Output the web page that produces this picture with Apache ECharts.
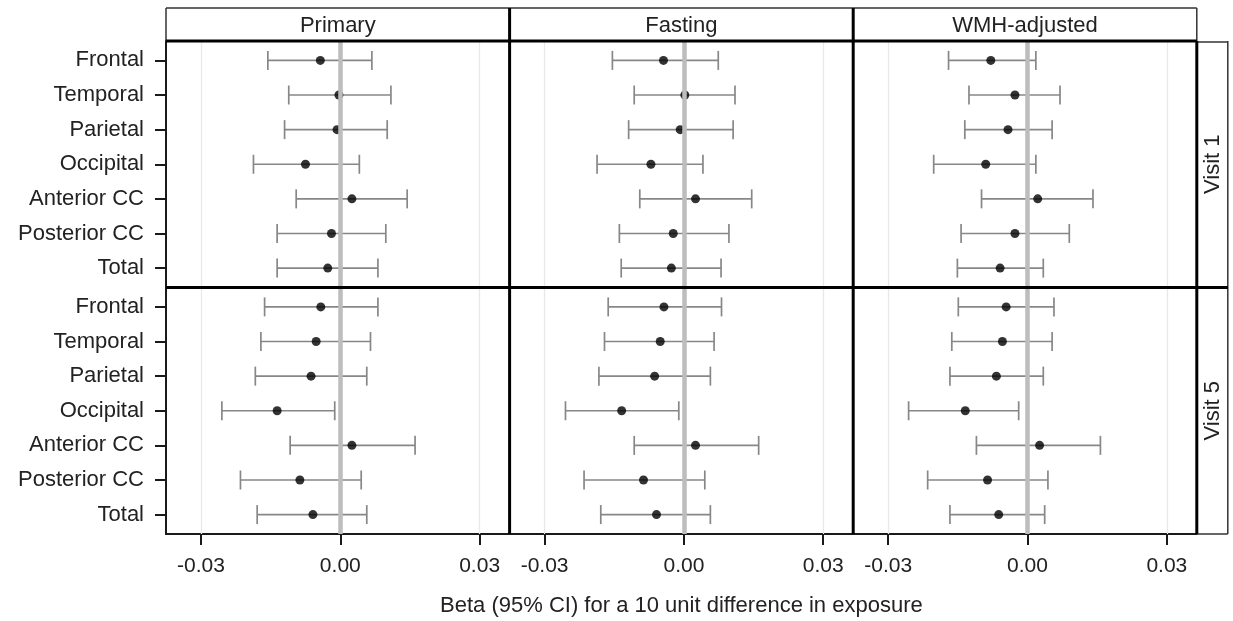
<!DOCTYPE html>
<html><head><meta charset="utf-8">
<script src="https://cdn.jsdelivr.net/npm/echarts@6/dist/echarts.min.js"></script>
<style>html,body{margin:0;padding:0;background:#fff}#c{width:1233px;height:621px}</style>
</head><body><div id="c"></div><script>
// ---- data ----
const categories = ['Frontal','Temporal','Parietal','Occipital','Anterior CC','Posterior CC','Total'];
const models = ['Primary','Fasting','WMH-adjusted'];
const visits = ['Visit 1','Visit 5'];
const xTickValues = [-0.03, 0, 0.03];
const xTickLabels = ['-0.03','0.00','0.03'];
const xAxisTitle = 'Beta (95% CI) for a 10 unit difference in exposure';

const primaryV1Est = [-0.0043, -0.0003, -0.0007, -0.0075, 0.0025, -0.0019, -0.0027];
const primaryV1Lo  = [-0.0156, -0.0111, -0.0120, -0.0187, -0.0095, -0.0136, -0.0136];
const primaryV1Hi  = [0.0068, 0.0109, 0.0101, 0.0041, 0.0144, 0.0098, 0.0081];

const primaryV5Est = [-0.0042, -0.0052, -0.0063, -0.0136, 0.0025, -0.0087, -0.0059];
const primaryV5Lo  = [-0.0163, -0.0171, -0.0183, -0.0255, -0.0108, -0.0215, -0.0179];
const primaryV5Hi  = [0.0081, 0.0065, 0.0057, -0.0012, 0.0161, 0.0045, 0.0057];

const fastingV1Est = [-0.0044, 0.0002, -0.0008, -0.0071, 0.0025, -0.0023, -0.0027];
const fastingV1Lo  = [-0.0154, -0.0107, -0.0119, -0.0187, -0.0095, -0.0139, -0.0135];
const fastingV1Hi  = [0.0074, 0.0110, 0.0106, 0.0041, 0.0146, 0.0097, 0.0080];

const fastingV5Est = [-0.0043, -0.0051, -0.0063, -0.0134, 0.0025, -0.0087, -0.0059];
const fastingV5Lo  = [-0.0163, -0.0171, -0.0183, -0.0255, -0.0107, -0.0215, -0.0179];
const fastingV5Hi  = [0.0081, 0.0065, 0.0057, -0.0011, 0.0161, 0.0045, 0.0057];

const wmhV1Est = [-0.0079, -0.0027, -0.0042, -0.0090, 0.0022, -0.0027, -0.0059];
const wmhV1Lo  = [-0.0170, -0.0126, -0.0135, -0.0202, -0.0099, -0.0143, -0.0151];
const wmhV1Hi  = [0.0018, 0.0070, 0.0053, 0.0018, 0.0141, 0.0090, 0.0034];

const wmhV5Est = [-0.0046, -0.0054, -0.0067, -0.0134, 0.0026, -0.0086, -0.0062];
const wmhV5Lo  = [-0.0149, -0.0163, -0.0167, -0.0256, -0.0110, -0.0215, -0.0167];
const wmhV5Hi  = [0.0057, 0.0053, 0.0034, -0.0019, 0.0157, 0.0044, 0.0037];

const panelData = [
  [[primaryV1Est, primaryV1Lo, primaryV1Hi], [fastingV1Est, fastingV1Lo, fastingV1Hi], [wmhV1Est, wmhV1Lo, wmhV1Hi]],
  [[primaryV5Est, primaryV5Lo, primaryV5Hi], [fastingV5Est, fastingV5Lo, fastingV5Hi], [wmhV5Est, wmhV5Lo, wmhV5Hi]]
];

// ---- layout / style ----
const FONT = '"Liberation Sans", Arial, sans-serif';
const TXT = '#222';
const L0 = 166, W = 343.6, T0 = 41, H = 246.5, HEAD_TOP = 8, STRIP_W = 31;
const PX_PER_UNIT = 4644;
const xMin = -174.3 / PX_PER_UNIT;
const xMax = xMin + W / PX_PER_UNIT;
const yMin = -0.56, yMax = 6.56;

const grids = [], xAxes = [], yAxes = [], series = [];
let gi = 0;
for (let r = 0; r < 2; r++) {
  for (let c = 0; c < 3; c++) {
    grids.push({left: L0 + c * W, top: T0 + r * H, width: W, height: H, containLabel: false});
    const bottom = r === 1;
    xAxes.push({
      type: 'value', gridIndex: gi, min: xMin, max: xMax,
      splitLine: {show: false},
      axisLine: {show: bottom, onZero: false, lineStyle: {color: '#1a1a1a', width: 2}},
      axisTick: {show: bottom, length: 11, customValues: xTickValues, lineStyle: {color: '#1a1a1a', width: 2}},
      axisLabel: {show: bottom, customValues: xTickValues, margin: 22, fontSize: 21, color: TXT, fontFamily: FONT,
        formatter: v => xTickLabels[xTickValues.findIndex(t => Math.abs(t - v) < 1e-9)] ?? ''}
    });
    const left = c === 0;
    yAxes.push({
      type: 'value', gridIndex: gi, min: yMin, max: yMax, inverse: true,
      splitLine: {show: false},
      axisLine: {show: left, onZero: false, lineStyle: {color: '#1a1a1a', width: 2}},
      axisTick: {show: left, length: 11, customValues: [0,1,2,3,4,5,6], lineStyle: {color: '#1a1a1a', width: 2}},
      axisLabel: {show: left, customValues: [0,1,2,3,4,5,6], margin: 22, fontSize: 22, color: TXT, fontFamily: FONT,
        formatter: v => categories[Math.round(v)]}
    });
    const [est, lo, hi] = panelData[r][c];
    // reference lines
    series.push({
      type: 'line', xAxisIndex: gi, yAxisIndex: gi, data: [], z: 1, silent: true,
      markLine: {
        silent: true, symbol: 'none', label: {show: false}, animation: false,
        data: [
          {xAxis: -0.03, lineStyle: {color: '#e8e8e8', width: 1.3, type: 'solid'}},
          {xAxis: 0.03, lineStyle: {color: '#e8e8e8', width: 1.3, type: 'solid'}},
          {xAxis: 0, lineStyle: {color: '#bdbdbd', width: 4.5, type: 'solid'}}
        ]
      }
    });
    // error bars
    series.push({
      type: 'custom', xAxisIndex: gi, yAxisIndex: gi, z: 2, silent: true,
      data: categories.map((_, i) => [lo[i], hi[i], i]),
      encode: {x: [0, 1], y: 2},
      renderItem: (params, api) => {
        const y = api.value(2);
        const p1 = api.coord([api.value(0), y]);
        const p2 = api.coord([api.value(1), y]);
        const h = 9.5;
        const st = {stroke: '#878787', lineWidth: 1.7};
        return {type: 'group', children: [
          {type: 'line', shape: {x1: p1[0], y1: p1[1], x2: p2[0], y2: p2[1]}, style: st},
          {type: 'line', shape: {x1: p1[0], y1: p1[1] - h, x2: p1[0], y2: p1[1] + h}, style: st},
          {type: 'line', shape: {x1: p2[0], y1: p2[1] - h, x2: p2[0], y2: p2[1] + h}, style: st}
        ]};
      }
    });
    // point estimates
    series.push({
      type: 'scatter', xAxisIndex: gi, yAxisIndex: gi, z: 3, silent: true,
      symbol: 'circle', symbolSize: 9, itemStyle: {color: '#000'},
      data: categories.map((_, i) => [est[i], i])
    });
    gi++;
  }
}

// ---- frames, headers, strips ----
const graphic = [];
const line = (x1, y1, x2, y2, w, col) => graphic.push({type: 'line', z: 50, silent: true,
  shape: {x1, y1, x2, y2}, style: {stroke: col, lineWidth: w}});
const RIGHT = L0 + 3 * W;
const BOTTOM = T0 + 2 * H;
// header boxes (thin)
line(L0, HEAD_TOP, RIGHT, HEAD_TOP, 1.5, '#333');
line(L0, HEAD_TOP, L0, T0, 1.5, '#333');
line(RIGHT, HEAD_TOP, RIGHT, T0, 1.5, '#333');
// strip box (thin)
line(RIGHT, T0 + 1, RIGHT + STRIP_W, T0 + 1, 1.5, '#333');
line(RIGHT + STRIP_W, T0, RIGHT + STRIP_W, BOTTOM, 1.5, '#333');
line(RIGHT, BOTTOM, RIGHT + STRIP_W, BOTTOM, 1.5, '#333');
// thick panel borders
line(L0, T0, RIGHT, T0, 3, '#000');
line(L0, T0 + H, RIGHT + STRIP_W, T0 + H, 3, '#000');
line(L0 + W, HEAD_TOP, L0 + W, BOTTOM, 3, '#000');
line(L0 + 2 * W, HEAD_TOP, L0 + 2 * W, BOTTOM, 3, '#000');
line(RIGHT, T0, RIGHT, BOTTOM, 3, '#000');
// header texts
models.forEach((m, c) => graphic.push({type: 'text', z: 51, silent: true,
  x: L0 + (c + 0.5) * W, y: (HEAD_TOP + T0) / 2 + 1,
  style: {text: m, fill: TXT, font: `22px ${FONT}`, align: 'center', verticalAlign: 'middle'}}));
// strip texts
visits.forEach((v, r) => graphic.push({type: 'text', z: 51, silent: true,
  x: RIGHT + STRIP_W / 2 + 1, y: T0 + (r + 0.5) * H, rotation: Math.PI / 2,
  style: {text: v, fill: TXT, font: `22px ${FONT}`, align: 'center', verticalAlign: 'middle'}}));
// x-axis title
graphic.push({type: 'text', z: 51, silent: true, x: L0 + 1.5 * W, y: 606,
  style: {text: xAxisTitle, fill: TXT, font: `22px ${FONT}`, align: 'center', verticalAlign: 'middle'}});

const chart = echarts.init(document.getElementById('c'), null, {renderer: 'canvas'});
chart.setOption({
  animation: false,
  backgroundColor: '#fff',
  grid: grids, xAxis: xAxes, yAxis: yAxes, series, graphic
});
</script></body></html>
